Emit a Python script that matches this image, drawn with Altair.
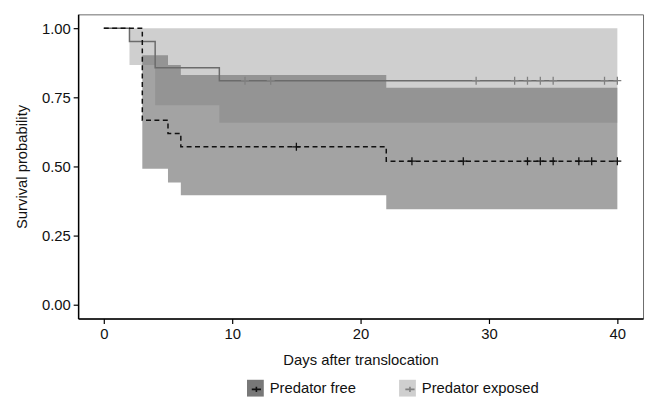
import altair as alt
import pandas as pd

# ---- data ----
groups = ["Predator free", "Predator exposed"]

exp_time = [0, 2, 4, 9, 40]
exp_surv = [1.0, 0.952, 0.857, 0.810, 0.810]
exp_ci_time = [0, 2, 4, 9, 22, 40]
exp_lower = [1.0, 0.867, 0.721, 0.658, 0.658, 0.658]
exp_upper = [1.0, 1.0, 1.0, 1.0, 1.0, 1.0]
exp_censor = [11, 13, 29, 32, 33, 34, 35, 39, 40]

pf_time = [0, 3, 5, 6, 22, 40]
pf_surv = [1.0, 0.667, 0.619, 0.571, 0.519, 0.519]
pf_ci_time = [0, 3, 5, 6, 22, 40]
pf_lower = [1.0, 0.492, 0.442, 0.396, 0.345, 0.345]
pf_upper = [1.0, 0.902, 0.867, 0.831, 0.785, 0.785]
pf_censor = [15, 24, 28, 33, 34, 35, 37, 38, 40]

x_ticks = [0, 10, 20, 30, 40]
y_ticks = [0.0, 0.25, 0.5, 0.75, 1.0]


def step_value(times, surv, t):
    v = surv[0]
    for ti, si in zip(times, surv):
        if ti <= t:
            v = si
    return v


band_exp = pd.DataFrame({"t": exp_ci_time, "lo": exp_lower, "hi": exp_upper, "group": groups[1]})
band_pf = pd.DataFrame({"t": pf_ci_time, "lo": pf_lower, "hi": pf_upper, "group": groups[0]})
line_exp = pd.DataFrame({"t": exp_time, "s": exp_surv})
line_pf = pd.DataFrame({"t": pf_time, "s": pf_surv})
cens = pd.DataFrame(
    [{"t": t, "s": step_value(pf_time, pf_surv, t), "grp": groups[0]} for t in pf_censor]
    + [{"t": t, "s": step_value(exp_time, exp_surv, t), "grp": groups[1]} for t in exp_censor]
)

FONT = "Liberation Sans"
CROSS = "M-0.5,0H0.5M0,-0.5V0.5"
KEY_CROSS = "M-0.55,0H0.55M0,-0.32V0.32"
xscale = alt.Scale(domain=[-2, 42], nice=False, zero=False)
yscale = alt.Scale(domain=[-0.05, 1.05], nice=False, zero=False)
xaxis = alt.Axis(values=x_ticks, title="Days after translocation", format="d")
yaxis = alt.Axis(values=y_ticks, title="Survival probability", format=".2f")

fill_scale = alt.Scale(domain=groups, range=["#787878", "#cfcfcf"])
stroke_scale = alt.Scale(range=["#111111", "#808080"])

LX, LY = 171, 370
KEY = 289  # 17 px square

legend_fill = alt.Legend(
    title=None, orient="none", legendX=LX, legendY=LY, direction="horizontal",
    symbolType="square", symbolSize=KEY, symbolOpacity=1, symbolStrokeWidth=0,
    columnPadding=43, labelOffset=6, padding=0,
)
legend_stroke = alt.Legend(
    title=None, orient="none", legendX=LX, legendY=LY, direction="horizontal",
    symbolType=KEY_CROSS, symbolSize=KEY, symbolOpacity=1, symbolStrokeWidth=1.6,
    symbolFillColor="transparent", labelExpr="''",
    columnPadding=130.5, labelOffset=6, padding=0,
)

area_exp = alt.Chart(band_exp).mark_area(interpolate="step-after").encode(
    x=alt.X("t:Q", scale=xscale, axis=xaxis),
    y=alt.Y("lo:Q", scale=yscale, axis=yaxis),
    y2="hi:Q",
    fill=alt.Fill("group:N", scale=fill_scale, legend=legend_fill),
)
area_pf = alt.Chart(band_pf).mark_area(interpolate="step-after", fillOpacity=0.68).encode(
    x="t:Q", y="lo:Q", y2="hi:Q",
    fill=alt.Fill("group:N", scale=fill_scale, legend=legend_fill),
)
ln_exp = alt.Chart(line_exp).mark_line(interpolate="step-after", color="#6b6b6b", strokeWidth=1.5).encode(
    x="t:Q", y="s:Q"
)
ln_pf = alt.Chart(line_pf).mark_line(
    interpolate="step-after", color="#111111", strokeWidth=1.5, strokeDash=[5, 3.5]
).encode(x="t:Q", y="s:Q")
pts = alt.Chart(cens).mark_point(
    shape=CROSS, size=256, filled=False, strokeWidth=1.3, opacity=1
).encode(
    x="t:Q", y="s:Q",
    stroke=alt.Stroke("grp:N", scale=stroke_scale, sort="descending", legend=legend_stroke),
)

chart = alt.layer(area_exp, area_pf, ln_exp, ln_pf, pts).properties(
    width=572, height=308,
    background="white",
    autosize=alt.AutoSizeParams(type="none"),
    padding={"left": 71, "top": 4, "right": 3, "bottom": 77},
).configure_view(
    stroke="#6a6a6a", strokeWidth=1
).configure_axis(
    grid=False, domainColor="#000000", domainWidth=1.5, tickColor="#000000", tickSize=5,
    tickWidth=1.2, labelFont=FONT, labelFontSize=15, labelColor="#111111", labelPadding=3,
    titleFont=FONT, titleFontSize=15, titleFontWeight="normal", titleColor="#111111",
).configure_axisX(titlePadding=12).configure_axisY(titlePadding=12).configure_legend(
    labelFont=FONT, labelFontSize=15, labelColor="#111111"
)

chart.save("out.html", embed_options={"renderer": "svg", "actions": False})
